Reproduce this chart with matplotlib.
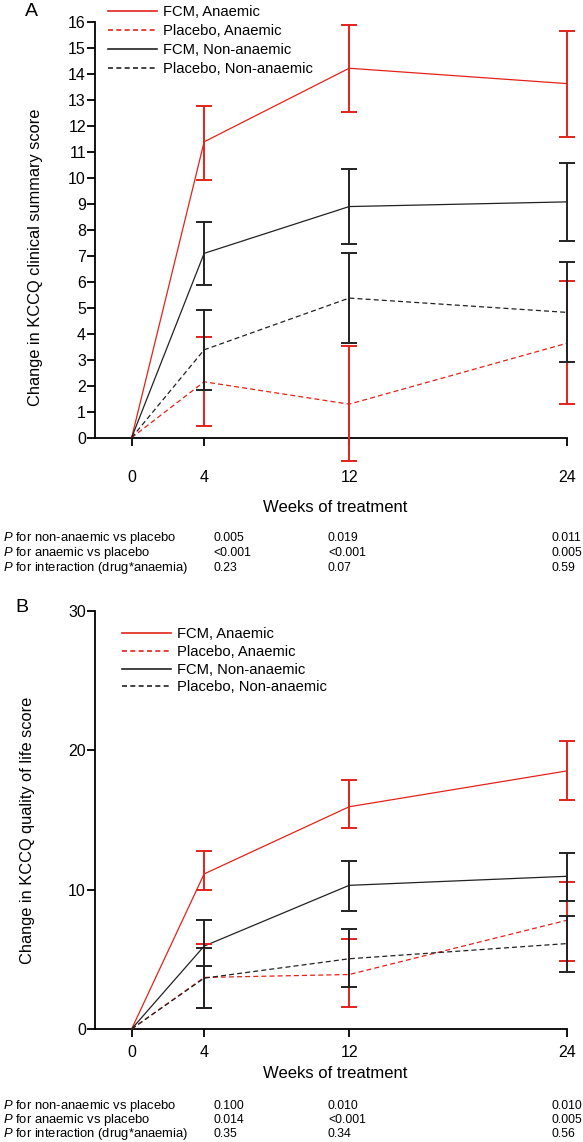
import matplotlib
matplotlib.use("Agg")
import matplotlib.pyplot as plt
from matplotlib.lines import Line2D

plt.rcParams['font.family'] = ['Liberation Sans', 'DejaVu Sans']
plt.rcParams['mathtext.fontset'] = 'custom'
plt.rcParams['mathtext.rm'] = 'Liberation Sans'
plt.rcParams['mathtext.it'] = 'Liberation Sans:italic'

weeks = [0, 4, 12, 24]
series = ['FCM, Anaemic', 'Placebo, Anaemic', 'FCM, Non-anaemic', 'Placebo, Non-anaemic']

# panel A: KCCQ clinical summary score (mean, lower, upper)
a_fcm_anaemic = [0, 11.38, 14.21, 13.62]
a_fcm_anaemic_lo = [0, 9.93, 12.54, 11.58]
a_fcm_anaemic_hi = [0, 12.77, 15.89, 15.66]
a_pla_anaemic = [0, 2.15, 1.29, 3.63]
a_pla_anaemic_lo = [0, 0.45, -0.91, 1.31]
a_pla_anaemic_hi = [0, 3.88, 3.52, 6.02]
a_fcm_non = [0, 7.09, 8.89, 9.07]
a_fcm_non_lo = [0, 5.89, 7.44, 7.55]
a_fcm_non_hi = [0, 8.29, 10.34, 10.57]
a_pla_non = [0, 3.38, 5.37, 4.82]
a_pla_non_lo = [0, 1.84, 3.65, 2.91]
a_pla_non_hi = [0, 4.91, 7.09, 6.74]

# panel B: KCCQ quality of life score
b_fcm_anaemic = [0, 11.13, 15.95, 18.52]
b_fcm_anaemic_lo = [0, 9.98, 14.44, 16.45]
b_fcm_anaemic_hi = [0, 12.75, 17.88, 20.65]
b_pla_anaemic = [0, 3.70, 3.91, 7.80]
b_pla_anaemic_lo = [0, 1.53, 1.58, 4.87]
b_pla_anaemic_hi = [0, 6.13, 6.49, 10.58]
b_fcm_non = [0, 5.95, 10.31, 10.96]
b_fcm_non_lo = [0, 4.53, 8.45, 9.19]
b_fcm_non_hi = [0, 7.80, 12.08, 12.63]
b_pla_non = [0, 3.65, 5.04, 6.13]
b_pla_non_lo = [0, 1.53, 3.03, 4.06]
b_pla_non_hi = [0, 5.82, 7.21, 8.11]

p_labels = ['for non-anaemic vs placebo', 'for anaemic vs placebo',
            'for interaction (drug*anaemia)']
a_p = [['0.005', '0.019', '0.011'],
       ['<0.001', '<0.001', '0.005'],
       ['0.23', '0.07', '0.59']]
b_p = [['0.100', '0.010', '0.010'],
       ['0.014', '<0.001', '0.005'],
       ['0.35', '0.34', '0.56']]

RED = '#e2231a'
BLK = '#222222'
colors = [RED, RED, BLK, BLK]
styles = ['-', '--', '-', '--']

W, H = 583, 1142
fig = plt.figure(figsize=(W / 100, H / 100), dpi=100)


def px_axes(left, right, top, bottom):
    return fig.add_axes([left / W, 1 - bottom / H, (right - left) / W, (bottom - top) / H])


def draw_panel(ax, data, ymax, yticks, ylabel, xpad):
    for (m, lo, hi), c, ls in zip(data, colors, styles):
        ax.plot(weeks, m, color=c, ls=ls, lw=0.9, dashes=(4, 2.5) if ls == '--' else (None, None),
                clip_on=False, zorder=3)
        err = [[m[i] - lo[i] for i in range(1, 4)], [hi[i] - m[i] for i in range(1, 4)]]
        ax.errorbar(weeks[1:], m[1:], yerr=err, fmt='none', ecolor=c, elinewidth=1.4,
                    capsize=6, capthick=1.4, clip_on=False, zorder=4)
    ax.set_xlim(-2.02, 24)
    ax.set_ylim(0, ymax)
    ax.set_xticks(weeks)
    ax.set_yticks(yticks)
    for s in ['top', 'right']:
        ax.spines[s].set_visible(False)
    for s in ['left', 'bottom']:
        ax.spines[s].set_linewidth(1.3)
    ax.tick_params(axis='both', direction='out', length=5.5, width=1.3, labelsize=11.5)
    ax.tick_params(axis='y', pad=1)
    ax.tick_params(axis='x', pad=xpad)
    ax.set_xlabel('Weeks of treatment', fontsize=12)
    ax.set_ylabel(ylabel, fontsize=11.8)
    handles = [Line2D([], [], color=c, ls=ls, lw=1.2,
                      dashes=(3, 2) if ls == '--' else (None, None))
               for c, ls in zip(colors, styles)]
    return handles


def p_table(rows, ys):
    for lab, vals, y in zip(p_labels, rows, ys):
        fig.text(3 / W, 1 - y / H, r'$\it{P}$ ' + lab, fontsize=9.4, va='center')
        for v, x in zip(vals, [213, 328, 551]):
            fig.text(x / W, 1 - y / H, v, fontsize=8.8, va='center')


# panel A
axA = px_axes(95, 566.7, 21.7, 437.7)
hA = draw_panel(axA, [(a_fcm_anaemic, a_fcm_anaemic_lo, a_fcm_anaemic_hi),
                      (a_pla_anaemic, a_pla_anaemic_lo, a_pla_anaemic_hi),
                      (a_fcm_non, a_fcm_non_lo, a_fcm_non_hi),
                      (a_pla_non, a_pla_non_lo, a_pla_non_hi)],
                16, range(0, 17), 'Change in KCCQ clinical summary score', 18)
axA.xaxis.set_label_coords(0.51, (437.7 - 507) / 416)
axA.xaxis.label.set_va('center')
axA.yaxis.set_label_coords((43 - 95) / 471.7, 0.434)
axA.legend(hA, series, loc='upper left', bbox_to_anchor=(108 / W, 1 - 5 / H),
           bbox_transform=fig.transFigure, frameon=False, fontsize=10.6, borderpad=0,
           borderaxespad=0, handlelength=3.3, handletextpad=0.45, labelspacing=0.34)
fig.text(31 / W, 1 - 12 / H, 'A', fontsize=14, ha='center', va='center')
p_table(a_p, [538, 553, 568])

# panel B
axB = px_axes(95, 566.7, 611, 1029)
hB = draw_panel(axB, [(b_fcm_anaemic, b_fcm_anaemic_lo, b_fcm_anaemic_hi),
                      (b_pla_anaemic, b_pla_anaemic_lo, b_pla_anaemic_hi),
                      (b_fcm_non, b_fcm_non_lo, b_fcm_non_hi),
                      (b_pla_non, b_pla_non_lo, b_pla_non_hi)],
                30, [0, 10, 20, 30], 'Change in KCCQ quality of life score', 6)
axB.xaxis.set_label_coords(0.51, (1029 - 1073) / 418)
axB.xaxis.label.set_va('center')
axB.yaxis.set_label_coords((35 - 95) / 471.7, 0.476)
axB.legend(hB, series, loc='upper left', bbox_to_anchor=(122 / W, 1 - 627 / H),
           bbox_transform=fig.transFigure, frameon=False, fontsize=10.6, borderpad=0,
           borderaxespad=0, handlelength=3.3, handletextpad=0.45, labelspacing=0.26)
fig.text(22 / W, 1 - 607 / H, 'B', fontsize=14, ha='center', va='center')
p_table(b_p, [1106, 1120, 1134])

fig.savefig('out.png', dpi=100)
